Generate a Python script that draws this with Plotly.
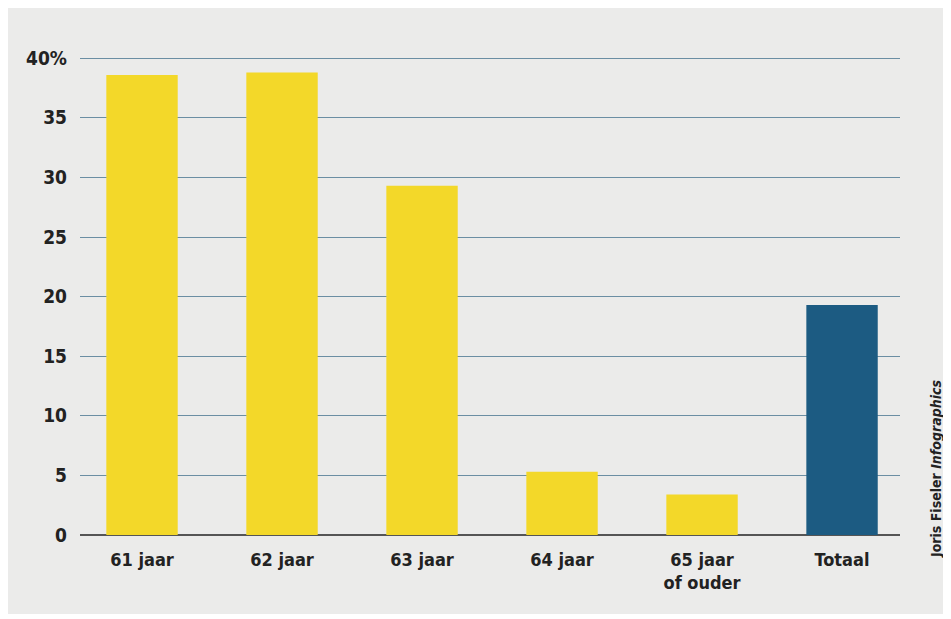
import plotly.graph_objects as go

categories = ["61 jaar", "62 jaar", "63 jaar", "64 jaar", "65 jaar<br>of ouder", "Totaal"]
values = [38.6, 38.8, 29.3, 5.3, 3.4, 19.3]
colors = ["#f3d829", "#f3d829", "#f3d829", "#f3d829", "#f3d829", "#1c5b82"]
tick_vals = [0, 5, 10, 15, 20, 25, 30, 35, 40]
tick_text = ["0", "5", "10", "15", "20", "25", "30", "35", "40%"]

font_family = "DejaVu Sans Condensed, Liberation Sans Narrow, Roboto, sans-serif"

fig = go.Figure(go.Bar(
    x=list(range(len(categories))), y=values,
    marker=dict(color=colors, line=dict(width=0)),
    width=0.51,
))

fig.update_layout(
    width=938, height=606,
    paper_bgcolor="#ebebea", plot_bgcolor="rgba(0,0,0,0)",
    margin=dict(l=72, r=46, t=49, b=79),
    showlegend=False,
    font=dict(family=font_family, color="#222222"),
    xaxis=dict(
        range=[-0.443, 5.414],
        tickmode="array", tickvals=list(range(len(categories))), ticktext=categories,
        tickfont=dict(size=18, family=font_family, color="#222222", weight="bold"),
        showgrid=False, zeroline=False, showline=False, ticks="",
        ticklabelstandoff=12,
    ),
    yaxis=dict(
        range=[0, 40.1], tickmode="array", tickvals=tick_vals, ticktext=tick_text,
        tickfont=dict(size=19, family=font_family, color="#222222", weight="bold"),
        showgrid=True, gridcolor="#6b8ea3", gridwidth=1.2,
        zeroline=True, zerolinecolor="#555555", zerolinewidth=2,
        showline=False, ticks="", ticklabelstandoff=12,
    ),
    annotations=[dict(
        text="Joris Fiseler <i>Infographics</i>",
        xref="paper", yref="paper", x=1 + 36 / 820, y=0.0, xanchor="center", yanchor="bottom",
        yshift=-25, textangle=-90, showarrow=False,
        font=dict(size=14, family=font_family, color="#222222", weight="bold"),
    )],
)

fig.write_html("out.html")
